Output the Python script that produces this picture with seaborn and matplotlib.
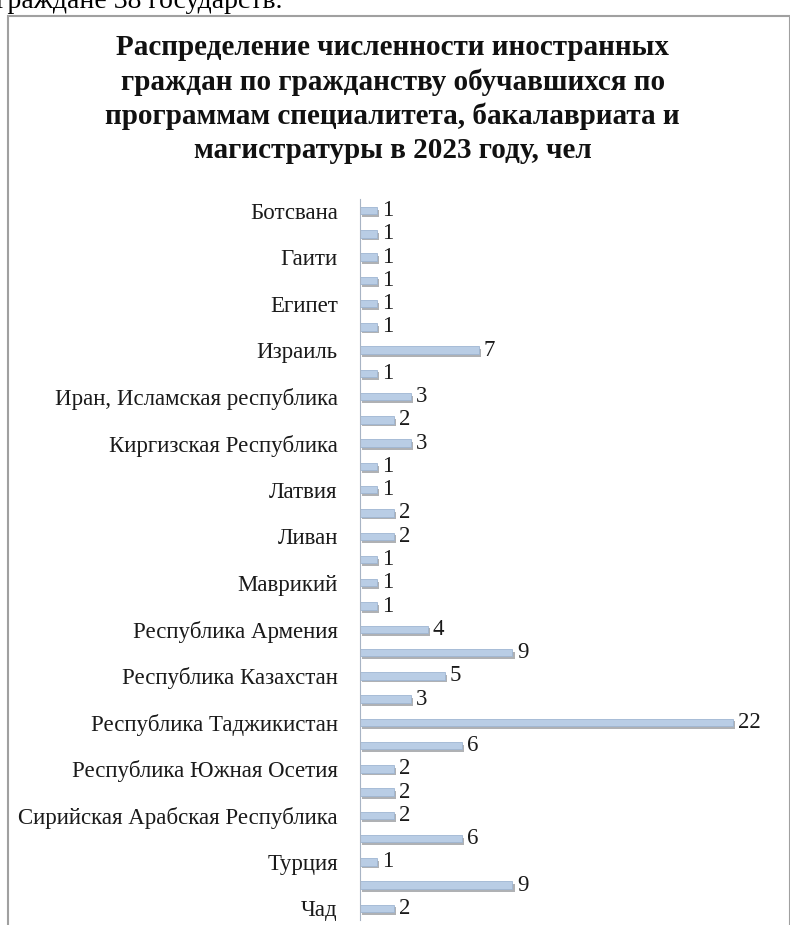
import numpy as np
import pandas as pd
import seaborn as sns
from matplotlib import pyplot as plt
from matplotlib.patches import Rectangle
import matplotlib.patheffects as pe

# every other country name is hidden on the axis, as in the source chart
countries = ['Ботсвана', '', 'Гаити', '', 'Египет', '', 'Израиль', '',
             'Иран, Исламская республика', '', 'Киргизская Республика', '',
             'Латвия', '', 'Ливан', '', 'Маврикий', '', 'Республика Армения', '',
             'Республика Казахстан', '', 'Республика Таджикистан', '',
             'Республика Южная Осетия', '', 'Сирийская Арабская Республика', '',
             'Турция', '', 'Чад']
students = [1, 1, 1, 1, 1, 1, 7, 1, 3, 2, 3, 1, 1, 2, 2, 1, 1, 1, 4, 9,
            5, 3, 22, 6, 2, 2, 2, 6, 1, 9, 2]

title = ('Распределение численности иностранных\n'
         'граждан по гражданству обучавшихся по\n'
         'программам специалитета, бакалавриата и\n'
         'магистратуры в 2023 году, чел')

df = pd.DataFrame({'slot': range(len(students)), 'value': students})

sns.set_style('white')
plt.rcParams['font.family'] = ['Liberation Serif', 'DejaVu Serif']

fig = plt.figure(figsize=(7.9, 9.25), dpi=100)
ax = fig.add_axes([360 / 790, 1 - 920 / 925, 420 / 790, 721 / 925])

sns.barplot(data=df, x='value', y='slot', orient='h', color='#b9cde5',
            width=0.32, edgecolor='#9fb6d3', linewidth=0.6, ax=ax,
            saturation=1)
for bar in ax.patches:
    bar.set_path_effects([pe.SimplePatchShadow(offset=(1.5, -2), alpha=0.4),
                          pe.Normal()])

for i, v in enumerate(students):
    ax.text(v + 0.3, i, str(v), va='center', ha='left', fontsize=16.5,
            color='#1a1a1a')

ax.set_yticks(range(len(countries)))
ax.set_yticklabels(countries, fontsize=16.5, color='#1a1a1a')
ax.tick_params(axis='y', length=0, pad=16)
ax.set_xlim(0, 24.8)
ax.set_xticks([])
ax.set_xlabel('')
ax.set_ylabel('')
for s in ['top', 'right', 'bottom']:
    ax.spines[s].set_visible(False)
ax.spines['left'].set_color('#a8b4c4')
ax.spines['left'].set_linewidth(0.8)

fig.text(0.497, 1 - 99 / 925, title, ha='center', va='center',
         fontsize=21, fontweight='bold', linespacing=1.33, color='#111111')

# text of the surrounding document, cut at the top edge
fig.text(-0.005, 1 - 2 / 925, 'граждане 38 государств.', ha='left',
         va='center', fontsize=20, color='black')

# frame of the chart object
fig.patches.append(Rectangle((8 / 790, -0.05), 0.99, 1 - 16 / 925 + 0.05,
                             transform=fig.transFigure, fill=False,
                             edgecolor='#a0a0a0', linewidth=1.5))

fig.savefig('out.png', dpi=100)
